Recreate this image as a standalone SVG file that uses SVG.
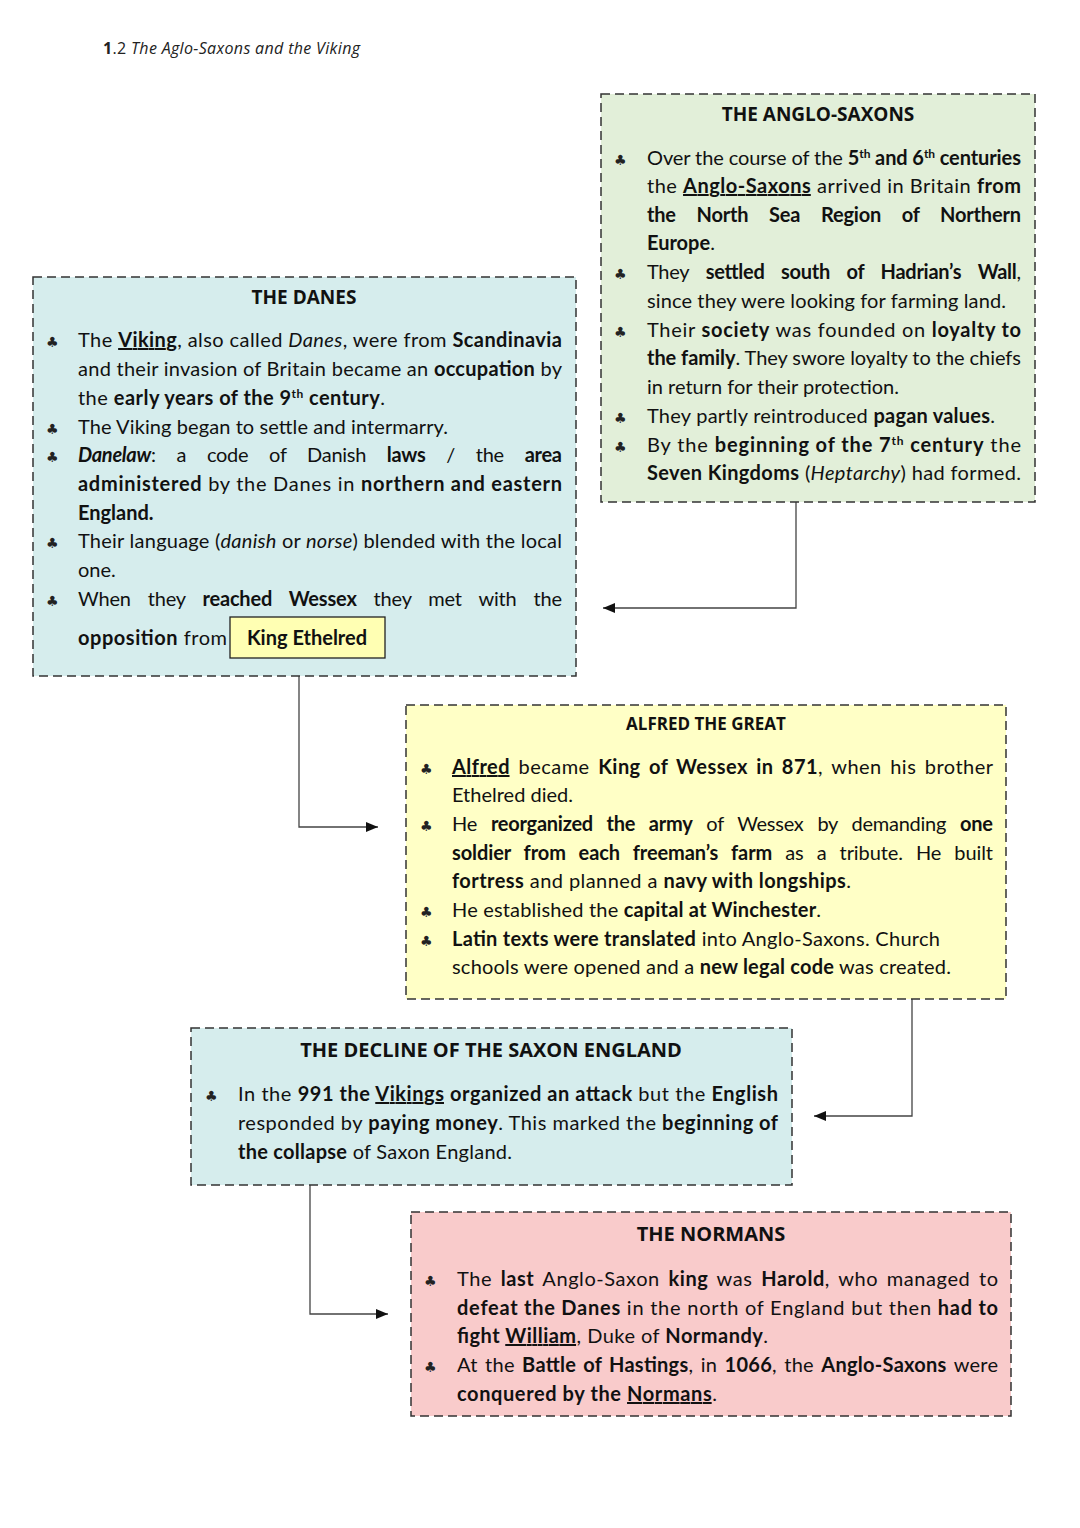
<svg xmlns="http://www.w3.org/2000/svg" width="1080" height="1528" viewBox="0 0 1080 1528">
<defs>
<style>
.t{font-family:Lato,"Open Sans","Liberation Sans",sans-serif;font-size:20px;fill:#111}
.h{font-family:"Open Sans",Lato,"Liberation Sans",sans-serif;font-weight:bold;fill:#111;text-anchor:middle}
.b{font-weight:bold}
.i{font-style:italic}
.u{text-decoration:underline}
.sup{font-size:12px;baseline-shift:super}
.bul{font-family:"DejaVu Sans",sans-serif;font-size:14px;fill:#222}
.box{stroke:#333;stroke-width:1.5;stroke-dasharray:9,5}
.con{fill:none;stroke:#444;stroke-width:1.3}
</style>
<marker id="arr" viewBox="0 0 12 10" refX="12" refY="5" markerWidth="12" markerHeight="10" markerUnits="userSpaceOnUse" orient="auto">
<path d="M0,0 L12,5 L0,10 z" fill="#111"/>
</marker>
</defs>
<rect width="1080" height="1528" fill="#fff"/>

<text x="103" y="54" textLength="257" lengthAdjust="spacing" style="font-family:'Open Sans',Lato,sans-serif;font-size:16px;fill:#222"><tspan font-weight="bold">1</tspan>.2 <tspan font-style="italic">The Aglo-Saxons and the Viking</tspan></text>

<g id="connectors">
<polyline class="con" points="796,502 796,608 603,608" marker-end="url(#arr)"/>
<polyline class="con" points="299,658 299,827 378,827" marker-end="url(#arr)"/>
<polyline class="con" points="912,999 912,1116 814,1116" marker-end="url(#arr)"/>
<polyline class="con" points="310,1185 310,1314 388,1314" marker-end="url(#arr)"/>
</g>

<g id="anglo-saxons">
<rect class="box" x="601" y="94" width="434" height="408" fill="#e2efd9"/>
<text class="h" x="818" y="121" font-size="19">THE ANGLO-SAXONS</text>
<text class="bul" x="614" y="165">♣</text>
<text class="bul" x="614" y="279">♣</text>
<text class="bul" x="614" y="337">♣</text>
<text class="bul" x="614" y="423">♣</text>
<text class="bul" x="614" y="452">♣</text>
<text class="t" x="647" y="165" textLength="374" lengthAdjust="spacing">Over the course of the <tspan class="b">5<tspan class="sup">th</tspan> and 6<tspan class="sup">th</tspan> centuries</tspan></text>
<text class="t" x="647" y="193" textLength="374" lengthAdjust="spacing">the <tspan class="b u">Anglo-Saxons</tspan> arrived in Britain <tspan class="b">from</tspan></text>
<text class="t b" x="647" y="222" word-spacing="16" textLength="374" lengthAdjust="spacing">the North Sea Region of Northern</text>
<text class="t" x="647" y="250"><tspan class="b">Europe</tspan>.</text>
<text class="t" x="647" y="279" word-spacing="12" textLength="374" lengthAdjust="spacing">They <tspan class="b">settled south of Hadrian’s Wall</tspan>,</text>
<text class="t" x="647" y="308" textLength="359" lengthAdjust="spacing">since they were looking for farming land.</text>
<text class="t" x="647" y="337" textLength="374" lengthAdjust="spacing">Their <tspan class="b">society</tspan> was founded on <tspan class="b">loyalty to</tspan></text>
<text class="t" x="647" y="365" textLength="374" lengthAdjust="spacing"><tspan class="b">the family</tspan>. They swore loyalty to the chiefs</text>
<text class="t" x="647" y="394" textLength="252" lengthAdjust="spacing">in return for their protection.</text>
<text class="t" x="647" y="423" textLength="348" lengthAdjust="spacing">They partly reintroduced <tspan class="b">pagan values</tspan>.</text>
<text class="t" x="647" y="452" textLength="374" lengthAdjust="spacing">By the <tspan class="b">beginning of the 7<tspan class="sup">th</tspan> century</tspan> the</text>
<text class="t" x="647" y="480" textLength="374" lengthAdjust="spacing"><tspan class="b">Seven Kingdoms</tspan> (<tspan class="i">Heptarchy</tspan>) had formed.</text>
</g>

<g id="danes">
<rect class="box" x="33" y="277" width="543" height="399" fill="#d6eded"/>
<text class="h" x="304" y="304" font-size="19">THE DANES</text>
<text class="bul" x="46" y="347">♣</text>
<text class="bul" x="46" y="434">♣</text>
<text class="bul" x="46" y="462">♣</text>
<text class="bul" x="46" y="548">♣</text>
<text class="bul" x="46" y="606">♣</text>
<text class="t" x="78" y="347" textLength="484" lengthAdjust="spacing">The <tspan class="b u">Viking</tspan>, also called <tspan class="i">Danes</tspan>, were from <tspan class="b">Scandinavia</tspan></text>
<text class="t" x="78" y="376" textLength="484" lengthAdjust="spacing">and their invasion of Britain became an <tspan class="b">occupation</tspan> by</text>
<text class="t" x="78" y="405" textLength="307" lengthAdjust="spacing">the <tspan class="b">early years of the 9<tspan class="sup">th</tspan> century</tspan>.</text>
<text class="t" x="78" y="434" textLength="370" lengthAdjust="spacing">The Viking began to settle and intermarry.</text>
<text class="t" x="78" y="462" word-spacing="16" textLength="484" lengthAdjust="spacing"><tspan class="b i">Danelaw</tspan>: a code of Danish <tspan class="b">laws</tspan> / the <tspan class="b">area</tspan></text>
<text class="t" x="78" y="491" textLength="484" lengthAdjust="spacing"><tspan class="b">administered</tspan> by the Danes in <tspan class="b">northern and eastern</tspan></text>
<text class="t b" x="78" y="520">England.</text>
<text class="t" x="78" y="548" textLength="484" lengthAdjust="spacing">Their language (<tspan class="i">danish</tspan> or <tspan class="i">norse</tspan>) blended with the local</text>
<text class="t" x="78" y="577">one.</text>
<text class="t" x="78" y="606" word-spacing="12" textLength="484" lengthAdjust="spacing">When they <tspan class="b">reached Wessex</tspan> they met with the</text>
<text class="t" x="78" y="645" textLength="149" lengthAdjust="spacing"><tspan class="b">opposition</tspan> from</text>
</g>

<g id="king-ethelred">
<rect x="230" y="617" width="155" height="41" fill="#ffffb3" stroke="#222" stroke-width="1.3"/>
<text class="t b" x="307" y="645" text-anchor="middle">King Ethelred</text>
</g>

<g id="alfred">
<rect class="box" x="406" y="705" width="600" height="294" fill="#ffffc6"/>
<text class="h" x="706" y="730" font-size="17">ALFRED THE GREAT</text>
<text class="bul" x="420" y="774">♣</text>
<text class="bul" x="420" y="831">♣</text>
<text class="bul" x="420" y="917">♣</text>
<text class="bul" x="420" y="946">♣</text>
<text class="t" x="452" y="774" word-spacing="3" textLength="541" lengthAdjust="spacing"><tspan class="b u">Alfred</tspan> became <tspan class="b">King of Wessex in 871</tspan>, when his brother</text>
<text class="t" x="452" y="802" textLength="121" lengthAdjust="spacing">Ethelred died.</text>
<text class="t" x="452" y="831" word-spacing="9" textLength="541" lengthAdjust="spacing">He <tspan class="b">reorganized the army</tspan> of Wessex by demanding <tspan class="b">one</tspan></text>
<text class="t" x="452" y="860" word-spacing="8" textLength="541" lengthAdjust="spacing"><tspan class="b">soldier from each freeman’s farm</tspan> as a tribute. He built</text>
<text class="t" x="452" y="888" textLength="399" lengthAdjust="spacing"><tspan class="b">fortress</tspan> and planned a <tspan class="b">navy with longships</tspan>.</text>
<text class="t" x="452" y="917" textLength="369" lengthAdjust="spacing">He established the <tspan class="b">capital at Winchester</tspan>.</text>
<text class="t" x="452" y="946" textLength="488" lengthAdjust="spacing"><tspan class="b">Latin texts were translated</tspan> into Anglo-Saxons. Church</text>
<text class="t" x="452" y="974" textLength="499" lengthAdjust="spacing">schools were opened and a <tspan class="b">new legal code</tspan> was created.</text>
</g>

<g id="decline">
<rect class="box" x="191" y="1028" width="601" height="157" fill="#d6eded"/>
<text class="h" x="491" y="1057" font-size="20">THE DECLINE OF THE SAXON ENGLAND</text>
<text class="bul" x="205" y="1101">♣</text>
<text class="t" x="238" y="1101" textLength="540" lengthAdjust="spacing">In the <tspan class="b">991 the <tspan class="u">Vikings</tspan> organized an attack</tspan> but the <tspan class="b">English</tspan></text>
<text class="t" x="238" y="1130" textLength="540" lengthAdjust="spacing">responded by <tspan class="b">paying money</tspan>. This marked the <tspan class="b">beginning of</tspan></text>
<text class="t" x="238" y="1159" textLength="274" lengthAdjust="spacing"><tspan class="b">the collapse</tspan> of Saxon England.</text>
</g>

<g id="normans">
<rect class="box" x="411" y="1212" width="600" height="204" fill="#f9cbcb"/>
<text class="h" x="711" y="1241" font-size="20">THE NORMANS</text>
<text class="bul" x="424" y="1286">♣</text>
<text class="bul" x="424" y="1372">♣</text>
<text class="t" x="457" y="1286" word-spacing="3" textLength="541" lengthAdjust="spacing">The <tspan class="b">last</tspan> Anglo-Saxon <tspan class="b">king</tspan> was <tspan class="b">Harold</tspan>, who managed to</text>
<text class="t" x="457" y="1315" textLength="541" lengthAdjust="spacing"><tspan class="b">defeat the Danes</tspan> in the north of England but then <tspan class="b">had to</tspan></text>
<text class="t" x="457" y="1343" textLength="311" lengthAdjust="spacing"><tspan class="b">fight <tspan class="u">William</tspan></tspan>, Duke of <tspan class="b">Normandy</tspan>.</text>
<text class="t" x="457" y="1372" word-spacing="2" textLength="541" lengthAdjust="spacing">At the <tspan class="b">Battle of Hastings</tspan>, in <tspan class="b">1066</tspan>, the <tspan class="b">Anglo-Saxons</tspan> were</text>
<text class="t" x="457" y="1401" textLength="260" lengthAdjust="spacing"><tspan class="b">conquered by the <tspan class="u">Normans</tspan></tspan>.</text>
</g>
</svg>
